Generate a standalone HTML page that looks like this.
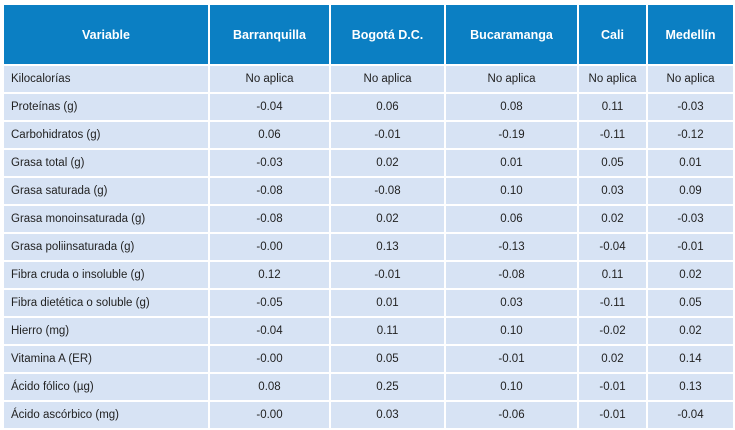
<!DOCTYPE html>
<html><head><meta charset="utf-8"><style>
body{margin:0;background:#fff;width:735px;height:430px;overflow:hidden;font-family:"Liberation Sans",sans-serif;}
table{position:absolute;left:2px;top:3px;border-collapse:separate;border-spacing:2px;table-layout:fixed;}
td,th{padding:0;background:#d7e3f4;color:#222;font-size:11.5px;height:26px;text-align:center;white-space:nowrap;overflow:hidden;}
th{background:#0b7fc3;color:#fff;font-weight:bold;font-size:12.5px;height:59px;}
td:first-child{text-align:left;padding-left:7px;}
</style></head><body>
<table>
<colgroup><col style="width:204px"><col style="width:119px"><col style="width:113px"><col style="width:131px"><col style="width:67px"><col style="width:85px"></colgroup>
<tr><th>Variable</th><th>Barranquilla</th><th>Bogotá D.C.</th><th>Bucaramanga</th><th>Cali</th><th>Medellín</th></tr>
<tr><td>Kilocalorías</td><td>No aplica</td><td>No aplica</td><td>No aplica</td><td>No aplica</td><td>No aplica</td></tr>
<tr><td>Proteínas (g)</td><td>-0.04</td><td>0.06</td><td>0.08</td><td>0.11</td><td>-0.03</td></tr>
<tr><td>Carbohidratos (g)</td><td>0.06</td><td>-0.01</td><td>-0.19</td><td>-0.11</td><td>-0.12</td></tr>
<tr><td>Grasa total (g)</td><td>-0.03</td><td>0.02</td><td>0.01</td><td>0.05</td><td>0.01</td></tr>
<tr><td>Grasa saturada (g)</td><td>-0.08</td><td>-0.08</td><td>0.10</td><td>0.03</td><td>0.09</td></tr>
<tr><td>Grasa monoinsaturada (g)</td><td>-0.08</td><td>0.02</td><td>0.06</td><td>0.02</td><td>-0.03</td></tr>
<tr><td>Grasa poliinsaturada (g)</td><td>-0.00</td><td>0.13</td><td>-0.13</td><td>-0.04</td><td>-0.01</td></tr>
<tr><td>Fibra cruda o insoluble (g)</td><td>0.12</td><td>-0.01</td><td>-0.08</td><td>0.11</td><td>0.02</td></tr>
<tr><td>Fibra dietética o soluble (g)</td><td>-0.05</td><td>0.01</td><td>0.03</td><td>-0.11</td><td>0.05</td></tr>
<tr><td>Hierro (mg)</td><td>-0.04</td><td>0.11</td><td>0.10</td><td>-0.02</td><td>0.02</td></tr>
<tr><td>Vitamina A (ER)</td><td>-0.00</td><td>0.05</td><td>-0.01</td><td>0.02</td><td>0.14</td></tr>
<tr><td>Ácido fólico (µg)</td><td>0.08</td><td>0.25</td><td>0.10</td><td>-0.01</td><td>0.13</td></tr>
<tr><td>Ácido ascórbico (mg)</td><td>-0.00</td><td>0.03</td><td>-0.06</td><td>-0.01</td><td>-0.04</td></tr>
</table>
</body></html>
